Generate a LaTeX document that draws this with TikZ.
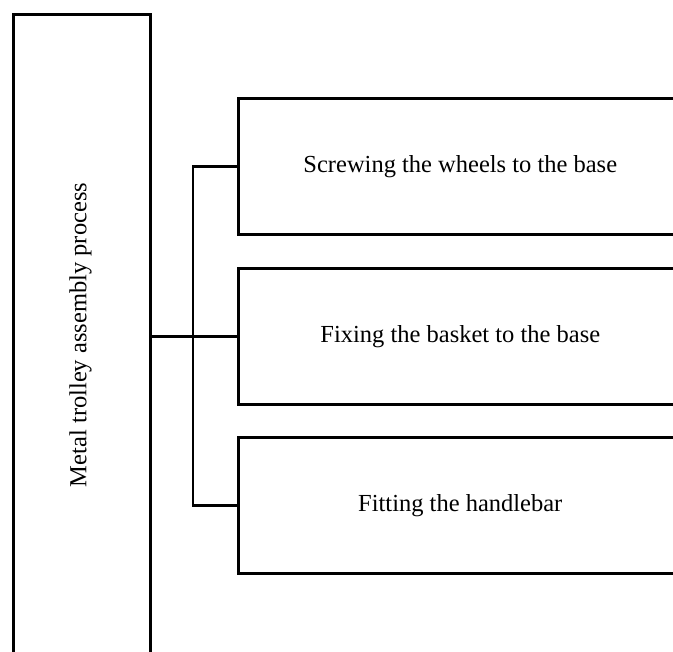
\documentclass[tikz,border=0pt]{standalone}
\usepackage{fontspec}
\setmainfont{Liberation Serif}
\begin{document}
\begin{tikzpicture}[x=1pt,y=-1pt,
  frame/.style={draw=black,line width=2.6pt,fill=white,inner sep=0pt},
  label/.style={font=\fontsize{24.5}{28}\selectfont},
  stepbox/.style={frame,label,minimum width=444pt,minimum height=136pt,anchor=north west},
  link/.style={draw=black,line width=2.6pt}]
\useasboundingbox (0,0) rectangle (673,652);
% process box on the left, running past the lower edge
\node[frame,minimum width=137pt,minimum height=660pt,anchor=north west] (proc) at (12,13) {};
\node[label,rotate=90] (proctext) at (80.5,335) {Metal trolley assembly process};
% the three steps
\node[stepbox] (s1) at (237,97) {Screwing the wheels to the base};
\node[stepbox] (s2) at (237,267) {Fixing the basket to the base};
\node[stepbox] (s3) at (237,436) {Fitting the handlebar};
% connectors
\draw[link] (proc.east |- s2.west) -- (s2.west);
\draw[link] (s1.west) -- ++(-44,0) |- (s3.west);
\end{tikzpicture}
\end{document}
